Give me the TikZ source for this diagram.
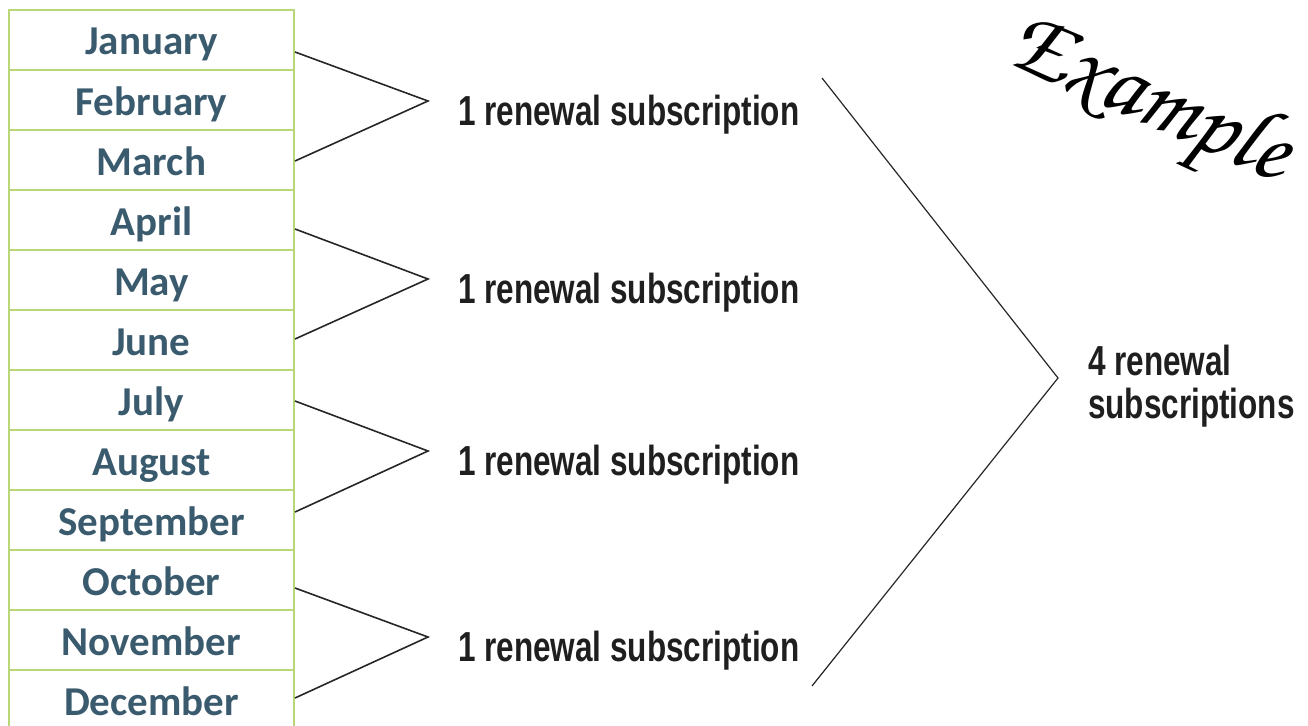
\documentclass[tikz,border=0pt]{standalone}
\usepackage{fontspec}
\setmainfont{Liberation Sans}
\newfontfamily\monthfont{Carlito}
\newfontfamily\handfont{Liberation Sans}
\usetikzlibrary{calc}
\definecolor{gridgreen}{HTML}{B9D777}
\definecolor{monthblue}{HTML}{3A5A6E}
\tikzset{
  month/.style={draw=gridgreen, line width=1.6pt, minimum width=285pt, minimum height=60pt,
    inner sep=0pt, text height=30pt, text depth=0pt, text=monthblue,
    font=\monthfont\bfseries\fontsize{41}{43}\selectfont},
  lbl/.style={anchor=base west, inner sep=0pt, xscale=0.75, transform shape,
    font=\handfont\bfseries\fontsize{42}{43}\selectfont, text=black!88},
  brace/.style={line width=1.6pt, black!85},
  bigbrace/.style={line width=1.2pt, black!85}
}
\begin{document}
\begin{tikzpicture}[x=1pt,y=-1pt]
\useasboundingbox (0,0) rectangle (1308,725);
\foreach \m [count=\i] in {January,February,March,April,May,June,July,August,September,October,November,December}{
  \node[month] (m\i) at (151.5,{10+60*(\i-1)+30}) {\m};
}
% group endpoints
\coordinate (s1) at (295,52);  \coordinate (a1) at (428,101); \coordinate (e1) at (295,161);
\coordinate (s2) at (295,229); \coordinate (a2) at (428,279); \coordinate (e2) at (295,339);
\coordinate (s3) at (295,401); \coordinate (a3) at (428,451); \coordinate (e3) at (295,512);
\coordinate (s4) at (295,588); \coordinate (a4) at (428,637); \coordinate (e4) at (295,698);
\foreach \g in {1,2,3,4}{
  \draw[brace] (s\g) -- (a\g) -- (e\g);
}
\node[lbl] (l1) at (458,125) {1 renewal subscription};
\node[lbl] (l2) at (458,303) {1 renewal subscription};
\node[lbl] (l3) at (458,475) {1 renewal subscription};
\node[lbl] (l4) at (458,661) {1 renewal subscription};
\coordinate (bs) at (822,78);
\coordinate (ba) at (1058,378);
\coordinate (be) at (812,686);
\draw[bigbrace] (bs) -- (ba) -- (be);
\node[lbl, align=left] (total) at (1088,418) {4 renewal\\subscriptions};
\node[rotate=-24, inner sep=0pt, font=\fontencoding{OT1}\fontfamily{pzc}\fontseries{m}\fontshape{it}\selectfont\fontsize{96}{96}\selectfont] (ex) at (1148,104) {Example};
\end{tikzpicture}
\end{document}
